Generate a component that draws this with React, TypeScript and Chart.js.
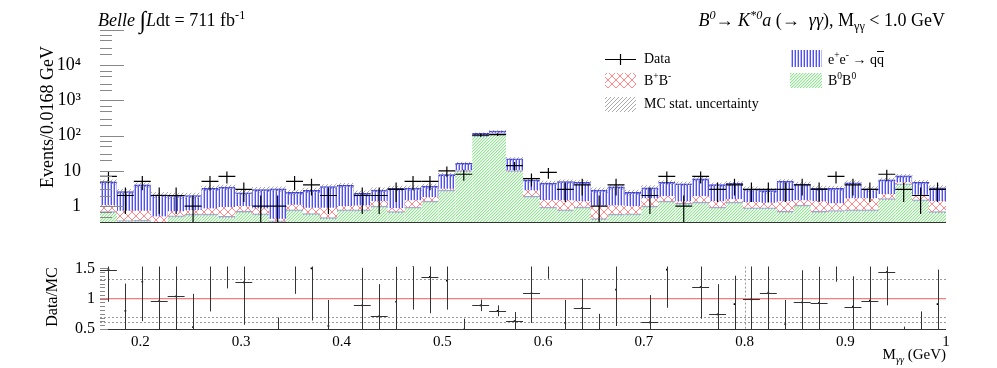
import React, { useEffect, useRef } from 'react';
import { Chart, registerables } from 'chart.js';
Chart.register(...registerables);

const SERIF = "'Liberation Serif', 'Times New Roman', Times, serif";

// ---------- binning ----------
const BIN_LOW = 0.16;
const BIN_HIGH = 1.0;
const BIN_WIDTH = 0.0168;

// ---------- MC components (events / bin) ----------
const b0b0 = [0.70, 0.39, 0.40, 0.30, 0.53, 0.59, 0.59, 0.51, 0.71, 0.60, 0.38, 0.78, 0.61, 0.47, 0.78, 0.78, 1.00, 0.70, 0.94, 1.38,
  2.85, 10.2, 100, 118, 10.2, 1.9, 0.94, 0.78, 0.94, 0.44, 0.59, 0.60, 1.00, 1.38, 1.20, 1.30, 0.94, 1.30, 0.90, 0.90,
  0.71, 1.07, 0.71, 0.75, 0.78, 0.78, 1.64, 4.30, 1.50, 0.70];
const bpbm = [0.35, 0.35, 0.34, 0.21, 0.18, 0.19, 0.27, 0.43, 0.29, 0.26, 0.06, 0.32, 0.29, 0.43, 0.22, 0.26, 0.38, 0.17, 0.52, 0.42,
  0.25, 0.4, 2, 2, 0.4, 0.9, 0.56, 0.68, 0.44, 0.60, 0.45, 0.40, 0.67, 0.52, 0.18, 0.60, 0.44, 0.27, 0.40, 0.35,
  0.67, 0.39, 0.67, 0.45, 0.89, 0.89, 0.56, 0.45, 0.60, 0.68];
const qqbar = [3.85, 1.86, 3.26, 1.59, 1.29, 1.22, 2.34, 2.51, 1.40, 2.09, 2.63, 1.35, 1.90, 2.70, 2.90, 1.26, 1.47, 2.33, 1.79, 1.90,
  4.70, 5.8, 14, 14, 11.4, 2.7, 3.0, 3.54, 3.32, 1.81, 2.46, 1.45, 1.63, 2.80, 2.92, 4.00, 2.67, 2.83, 1.75, 1.50,
  3.72, 2.79, 1.82, 2.00, 2.93, 1.43, 3.35, 2.45, 2.65, 1.92];
const mcStatErr = [0.7, 0.4, 0.6, 0.35, 0.35, 0.35, 0.5, 0.5, 0.4, 0.45, 0.45, 0.4, 0.45, 0.5, 0.55, 0.4, 0.45, 0.5, 0.5, 0.55,
  0.9, 1.4, 4, 5, 1.8, 0.7, 0.6, 0.6, 0.6, 0.45, 0.5, 0.4, 0.5, 0.6, 0.55, 0.7, 0.55, 0.6, 0.45, 0.45,
  0.6, 0.55, 0.5, 0.5, 0.6, 0.5, 0.65, 0.8, 0.6, 0.5];

// ---------- data ----------
const dataCounts = [7, 2, 5, 2, 2, 1, 5, 7, 3, 1, 1, 5, 4, 2, null, 2, 2, 3, 5, 5,
  10, 8, 103, 107, 14, 6, 9, 3, 4, 1, 4, null, 2, 7, 1, 7, 3, 4, 3, 3,
  3, 4, 3, 7, 4, 3, 8, 3, 2, 3];
const dataErr = [2.6, 1.4, 2.2, 1.4, 1.4, 1.0, 2.2, 2.6, 1.7, 1.0, 1.0, 2.2, 2.0, 1.4, 0, 1.4, 1.4, 1.7, 2.2, 2.2,
  3.2, 2.8, 10.1, 10.3, 3.7, 2.4, 3.0, 1.7, 2.0, 1.0, 2.0, 0, 1.4, 2.6, 1.0, 2.6, 1.7, 2.0, 1.7, 1.7,
  1.7, 2.0, 1.7, 2.6, 2.0, 1.7, 2.8, 1.7, 1.4, 1.7];

// ---------- ratio pad ----------
const ratioVals = [1.48, 0.8, 1.28, 0.96, 1.04, 0.53, 1.56, 2.0, 1.27, 0.34, 0.33, 2.0, 1.5, 0.55, null, 0.89, 0.71, 0.95, 1.54, 1.36,
  1.3, 0.49, 0.89, 0.8, 0.63, 1.09, 2.0, 0.6, 0.85, 0.35, 1.15, null, 0.61, 1.48, 0.23, 1.19, 0.74, 0.91, 0.99, 1.1,
  0.58, 0.94, 0.93, 2.2, 0.87, 0.97, 1.44, 0.42, 0.42, 0.91];
const ratioErr = [0.53, 0.45, 0.65, 0.67, 0.7, 0.55, 0.77, 0.83, 0.7, 0.12, 0.36, 0.92, 0.86, 0.43, 0, 0.62, 0.53, 0.58, 0.72, 0.6,
  0.48, 0.18, 0.095, 0.09, 0.15, 0.49, 0.67, 0.38, 0.48, 0.4, 0.6, 0, 0.45, 0.63, 0.23, 0.52, 0.5, 0.47, 0.6, 0.65,
  0.4, 0.53, 0.6, 0.92, 0.5, 0.6, 0.55, 0.12, 0.37, 0.57];
const ratioXErr = [0.0084, 0, 0, 0.0084, 0.0084, 0, 0, 0, 0.0084, 0, 0, 0, 0, 0, 0, 0.0084, 0.0084, 0, 0, 0.0084,
  0, 0, 0.0084, 0.0084, 0.0084, 0.0084, 0, 0, 0.0084, 0, 0, 0, 0.0084, 0, 0, 0.0084, 0.0084, 0, 0.0084, 0.0084,
  0, 0.0084, 0.0084, 0, 0.0084, 0.0084, 0.0084, 0, 0, 0];

// ---------- axes ----------
const Y_MIN = 0.35;
const Y_MAX = 1e5;
const yTickValues = [1, 10, 100, 1000, 10000];
const yTickLabels = ['1', '10', '10²', '10³', '10⁴'];
const yMinorMultipliers = [2, 3, 5, 7];
const xTickValues = [0.2, 0.3, 0.4, 0.5, 0.6, 0.7, 0.8, 0.9, 1.0];
const xTickLabels = ['0.2', '0.3', '0.4', '0.5', '0.6', '0.7', '0.8', '0.9', '1'];
const R_MIN = 0.5;
const R_MAX = 1.53;
const ratioTickValues = [0.5, 1, 1.5];
const ratioTickLabels = ['0.5', '1', '1.5'];
const ratioGridY = [1.33, 0.7, 0.61];
const ratioGridX = [0.8];

const binCenters = b0b0.map((_, i) => Number((BIN_LOW + BIN_WIDTH * (i + 0.5)).toFixed(4)));
const cumRed = b0b0.map((g, i) => g + bpbm[i]);
const cumTotal = cumRed.map((r, i) => r + qqbar[i]);

type Px = [number, number, string];
function makePattern(ctx: CanvasRenderingContext2D, w: number, h: number, px: Px[]) {
  const c = document.createElement('canvas');
  c.width = w; c.height = h;
  const g = c.getContext('2d')!;
  for (const [x, y, col] of px) { g.fillStyle = col; g.fillRect(x, y, 1, 1); }
  return ctx.createPattern(c, 'repeat')!;
}

const sup = (t: string, italic = false) => (
  <span style={{ fontSize: '0.68em', position: 'relative', top: '-0.6em', lineHeight: 0, fontStyle: italic ? 'italic' : 'normal' }}>{t}</span>
);
const sub = (t: string, italic = false) => (
  <span style={{ fontSize: '0.68em', position: 'relative', top: '0.35em', lineHeight: 0, fontStyle: italic ? 'italic' : 'normal' }}>{t}</span>
);

export default function App() {
  const topRef = useRef<HTMLCanvasElement>(null);
  const botRef = useRef<HTMLCanvasElement>(null);

  useEffect(() => {
    const tc = topRef.current!;
    const bc = botRef.current!;
    const tctx = tc.getContext('2d')!;
    Chart.defaults.font.family = SERIF;
    Chart.defaults.color = '#000';

    const greenPx: Px[] = [];
    for (let x = 0; x < 3; x++) {
      greenPx.push([x, 2 - x, 'rgb(140,232,140)']);
      greenPx.push([(x + 1) % 3, 2 - x, 'rgb(215,246,215)']);
    }
    const greenPat = makePattern(tctx, 3, 3, greenPx);
    const red = 'rgb(255,135,135)';
    const redPx: Px[] = [];
    for (let x = 0; x < 8; x++) { redPx.push([x, x, red]); redPx.push([x, 7 - x, red]); }
    const redPat = makePattern(tctx, 8, 8, redPx);
    const bluePat = makePattern(tctx, 3, 1, [[0, 0, 'rgb(80,80,250)'], [2, 0, 'rgb(185,185,255)']]);
    const grayPx: Px[] = [];
    for (let x = 0; x < 4; x++) grayPx.push([x, 3 - x, 'rgba(140,140,140,0.75)']);
    const grayPat = makePattern(tctx, 4, 4, grayPx);

    const topPlugin = {
      id: 'topDecor',
      afterDatasetsDraw(chart: any) {
        const { ctx, chartArea: a, scales } = chart;
        const x = scales.x, y = scales.y;
        ctx.save();
        ctx.beginPath();
        ctx.rect(a.left, a.top, a.right - a.left, a.bottom - a.top);
        ctx.clip();
        ctx.strokeStyle = '#000';
        ctx.lineWidth = 1.2;
        dataCounts.forEach((d, i) => {
          if (d == null) return;
          const c = binCenters[i];
          const cx = x.getPixelForValue(c);
          const xl = x.getPixelForValue(c - BIN_WIDTH / 2);
          const xr = x.getPixelForValue(c + BIN_WIDTH / 2);
          const py = y.getPixelForValue(d);
          const lo = d - dataErr[i];
          const pyLo = lo > 0 ? y.getPixelForValue(lo) : a.bottom;
          const pyHi = y.getPixelForValue(d + dataErr[i]);
          ctx.beginPath();
          ctx.moveTo(xl, py); ctx.lineTo(xr, py);
          ctx.moveTo(cx, pyHi); ctx.lineTo(cx, pyLo);
          ctx.stroke();
        });
        ctx.restore();

        // axis line and y ticks
        ctx.save();
        ctx.strokeStyle = '#333';
        ctx.lineWidth = 1;
        ctx.beginPath();
        ctx.moveTo(a.left, Math.round(a.bottom) + 0.5); ctx.lineTo(a.right, Math.round(a.bottom) + 0.5);
        ctx.stroke();
        ctx.strokeStyle = '#888';
        ctx.beginPath();
        for (let e = -1; e <= 5; e++) {
          const base = Math.pow(10, e);
          const mults = [1, ...yMinorMultipliers];
          for (const n of mults) {
            const v = n * base;
            if (v < Y_MIN || v > Y_MAX) continue;
            const py = Math.round(y.getPixelForValue(v)) + 0.5;
            const len = n === 1 ? 24 : 12;
            ctx.moveTo(a.left, py); ctx.lineTo(a.left + len, py);
          }
        }
        ctx.stroke();
        ctx.restore();

        // legend swatches
        ctx.save();
        ctx.strokeStyle = '#000';
        ctx.lineWidth = 1.2;
        ctx.beginPath();
        ctx.moveTo(605, 59.5); ctx.lineTo(636, 59.5);
        ctx.moveTo(620.5, 54); ctx.lineTo(620.5, 65);
        ctx.stroke();
        ctx.fillStyle = redPat; ctx.fillRect(605, 73, 31, 15);
        ctx.fillStyle = grayPat; ctx.fillRect(605, 97, 31, 15);
        ctx.fillStyle = bluePat; ctx.fillRect(790, 50, 32, 17);
        ctx.fillStyle = greenPat; ctx.fillRect(790, 73, 32, 15);
        ctx.restore();
      },
    };

    const barCommon = { grouped: false, barPercentage: 1, categoryPercentage: 1 };

    const topChart = new Chart(tc, {
      type: 'bar',
      data: {
        datasets: [
          {
            label: 'MC stat. uncertainty',
            data: binCenters.map((x, i) => ({ x, y: [cumTotal[i] - mcStatErr[i], cumTotal[i] + mcStatErr[i]] })),
            backgroundColor: grayPat, borderWidth: 0, order: 0, ...barCommon,
          } as any,
          {
            label: 'e+e- → qq',
            data: binCenters.map((x, i) => ({ x, y: [cumRed[i], cumTotal[i]] })),
            backgroundColor: bluePat, borderColor: 'rgb(60,60,225)',
            borderWidth: { top: 1, left: 0, right: 0, bottom: 0 }, borderSkipped: false, order: 1, ...barCommon,
          } as any,
          {
            label: 'B+B-',
            data: binCenters.map((x, i) => ({ x, y: [b0b0[i], cumRed[i]] })),
            backgroundColor: redPat, borderWidth: 0, order: 2, ...barCommon,
          } as any,
          {
            label: 'B0B0',
            data: binCenters.map((x, i) => ({ x, y: b0b0[i] })),
            backgroundColor: greenPat, borderColor: 'rgba(60,60,210,0.5)',
            borderWidth: { top: 1, left: 0, right: 0, bottom: 0 }, borderSkipped: false, order: 3, ...barCommon,
          } as any,
          {
            type: 'line',
            label: 'Data',
            data: binCenters.map((x, i) => ({ x, y: dataCounts[i] })),
            showLine: false, pointRadius: 0, order: -1,
          } as any,
        ],
      },
      options: {
        responsive: false,
        animation: false,
        devicePixelRatio: 1,
        layout: { padding: { left: 0, top: 24, right: 51, bottom: 0 } },
        plugins: { legend: { display: false }, tooltip: { enabled: false } },
        scales: {
          x: {
            type: 'linear', min: BIN_LOW, max: BIN_HIGH, offset: false,
            grid: { display: false, drawTicks: false, offset: false }, border: { display: false },
            ticks: { display: false },
            afterFit: (s: any) => { s.height = 8; },
          },
          y: {
            type: 'logarithmic', min: Y_MIN, max: Y_MAX,
            grid: { display: false, drawTicks: false }, border: { display: false },
            afterBuildTicks: (s: any) => { s.ticks = yTickValues.map((v) => ({ value: v })); },
            ticks: {
              autoSkip: false, padding: 19, color: '#000', font: { family: SERIF, size: 18 },
              callback: (_v: any, i: number) => yTickLabels[i],
            },
            afterFit: (s: any) => { s.width = 100; },
          },
        } as any,
      },
      plugins: [topPlugin],
    } as any);

    const botPlugin = {
      id: 'botDecor',
      beforeDatasetsDraw(chart: any) {
        const { ctx, chartArea: a, scales } = chart;
        ctx.save();
        ctx.strokeStyle = '#999';
        ctx.lineWidth = 1;
        ctx.setLineDash([2, 2]);
        ctx.beginPath();
        ratioGridY.forEach((v) => {
          const py = Math.round(scales.y.getPixelForValue(v)) + 0.5;
          ctx.moveTo(a.left, py); ctx.lineTo(a.right, py);
        });
        ratioGridX.forEach((v) => {
          const px = Math.round(scales.x.getPixelForValue(v)) + 0.5;
          ctx.moveTo(px, a.top); ctx.lineTo(px, a.bottom);
        });
        ctx.stroke();
        ctx.restore();
      },
      afterDatasetsDraw(chart: any) {
        const { ctx, chartArea: a, scales } = chart;
        const x = scales.x, y = scales.y;
        ctx.save();
        ctx.beginPath();
        ctx.rect(a.left, a.top, a.right - a.left, a.bottom - a.top);
        ctx.clip();
        ctx.strokeStyle = '#333';
        ctx.lineWidth = 1;
        ratioVals.forEach((r, i) => {
          if (r == null) return;
          const c = binCenters[i];
          const cx = Math.round(x.getPixelForValue(c)) + 0.5;
          const py = y.getPixelForValue(r);
          ctx.beginPath();
          ctx.moveTo(cx, y.getPixelForValue(r + ratioErr[i]));
          ctx.lineTo(cx, y.getPixelForValue(r - ratioErr[i]));
          if (ratioXErr[i] > 0) {
            const yy = Math.round(py) + 0.5;
            ctx.moveTo(x.getPixelForValue(c - ratioXErr[i]), yy);
            ctx.lineTo(x.getPixelForValue(c + ratioXErr[i]), yy);
          }
          ctx.stroke();
        });
        ctx.restore();

        ctx.save();
        ctx.strokeStyle = '#333';
        ctx.lineWidth = 1;
        ctx.beginPath();
        const by = Math.round(a.bottom) + 0.5;
        ctx.moveTo(a.left, by); ctx.lineTo(a.right, by);
        ctx.stroke();
        ctx.strokeStyle = '#888';
        ctx.beginPath();
        for (let k = 0; k <= 16; k++) {
          const v = R_MIN + k * 0.0625;
          const py = Math.round(y.getPixelForValue(v)) + 0.5;
          const len = k % 8 === 0 ? 8 : 5;
          ctx.moveTo(a.left, py); ctx.lineTo(a.left + len, py);
        }
        ctx.stroke();
        ctx.restore();
      },
    };

    const botChart = new Chart(bc, {
      type: 'scatter',
      data: {
        datasets: [
          {
            type: 'line',
            label: 'unity',
            data: [{ x: BIN_LOW, y: 1 }, { x: BIN_HIGH, y: 1 }],
            borderColor: 'rgb(255,90,90)', borderWidth: 1, pointRadius: 0, order: 2,
          } as any,
          {
            label: 'Data/MC',
            data: binCenters.map((x, i) => ({ x, y: ratioVals[i] })),
            pointStyle: 'rect', pointRadius: 1.2, backgroundColor: '#000', borderWidth: 0, order: 1,
          } as any,
        ],
      },
      options: {
        responsive: false,
        animation: false,
        devicePixelRatio: 1,
        layout: { padding: { left: 0, top: 11, right: 51, bottom: 0 } },
        plugins: { legend: { display: false }, tooltip: { enabled: false } },
        scales: {
          x: {
            type: 'linear', min: BIN_LOW, max: BIN_HIGH,
            grid: { display: false, drawTicks: false }, border: { display: false },
            afterBuildTicks: (s: any) => { s.ticks = xTickValues.map((v) => ({ value: v })); },
            ticks: {
              autoSkip: false, maxRotation: 0, padding: 4, color: '#000', font: { family: SERIF, size: 15 },
              callback: (_v: any, i: number) => xTickLabels[i],
            },
            afterFit: (s: any) => { s.height = 39; },
          },
          y: {
            type: 'linear', min: R_MIN, max: R_MAX,
            grid: { display: false, drawTicks: false }, border: { display: false },
            afterBuildTicks: (s: any) => { s.ticks = ratioTickValues.map((v) => ({ value: v })); },
            ticks: {
              autoSkip: false, padding: 5, color: '#000', font: { family: SERIF, size: 16 },
              callback: (_v: any, i: number) => ratioTickLabels[i],
            },
            afterFit: (s: any) => { s.width = 100; },
          },
        } as any,
      },
      plugins: [botPlugin],
    } as any);

    return () => { topChart.destroy(); botChart.destroy(); };
  }, []);

  const abs: React.CSSProperties = { position: 'absolute', whiteSpace: 'nowrap', lineHeight: 1 };

  return (
    <div style={{ position: 'absolute', left: 0, top: 0, width: 997, height: 368, background: '#fff', overflow: 'hidden', fontFamily: SERIF, color: '#000' }}>
      <canvas ref={topRef} width={997} height={252} style={{ position: 'absolute', left: 0, top: 0 }} />
      <canvas ref={botRef} width={997} height={116} style={{ position: 'absolute', left: 0, top: 252 }} />

      <div style={{ ...abs, left: 98, top: 11, fontSize: 18 }}>
        <i>Belle</i>{' '}
        <span style={{ fontSize: 24, lineHeight: 0, position: 'relative', top: 2 }}>∫</span>
        <i>L</i>dt = 711 fb{sup('-1')}
      </div>
      <div style={{ ...abs, right: 52, top: 11, fontSize: 18 }}>
        <i>B</i>{sup('0', true)}→ <i>K</i>{sup('*0', true)}<i>a</i> (→ &nbsp;<i>γγ</i>), M{sub('γγ')} &lt; 1.0 GeV
      </div>

      <div style={{ ...abs, left: 644, top: 52, fontSize: 14 }}>Data</div>
      <div style={{ ...abs, left: 644, top: 74, fontSize: 14 }}>B{sup('+')}B{sup('-')}</div>
      <div style={{ ...abs, left: 644, top: 97, fontSize: 14 }}>MC stat. uncertainty</div>
      <div style={{ ...abs, left: 828, top: 53, fontSize: 14 }}>
        e{sup('+')}e{sup('-')} → q<span style={{ textDecoration: 'overline' }}>q</span>
      </div>
      <div style={{ ...abs, left: 828, top: 74, fontSize: 14 }}>B{sup('0')}B{sup('0')}</div>

      <div style={{ ...abs, left: 47, top: 117, fontSize: 18, transform: 'translate(-50%,-50%) rotate(-90deg)' }}>Events/0.0168 GeV</div>
      <div style={{ ...abs, left: 52, top: 297, fontSize: 16, transform: 'translate(-50%,-50%) rotate(-90deg)' }}>Data/MC</div>
      <div style={{ ...abs, right: 51, top: 347, fontSize: 15 }}>M{sub('γγ', true)} (GeV)</div>
    </div>
  );
}
